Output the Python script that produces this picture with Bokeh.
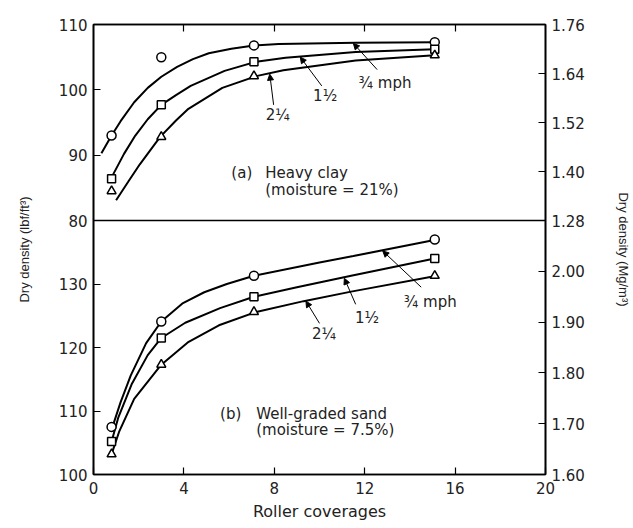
from bokeh.plotting import figure
from bokeh.models import (Range1d, LinearAxis, FixedTicker, Span, Arrow,
                          NormalHead, Label, PrintfTickFormatter)
from bokeh.embed import file_html
from bokeh.resources import INLINE

# ---------------- data ----------------
# roller coverages of the measured points
marker_x = [0.8, 3.0, 7.1, 15.1]

# (a) Heavy clay - dry density (lbf/ft3) of the measured points
clay_mph_3_4 = [93.0, 105.0, 106.8, 107.3]
clay_mph_1_1_2 = [86.4, 97.7, 104.3, 106.2]
clay_mph_2_1_4 = [84.5, 92.8, 102.1, 105.3]

# (a) fitted curves
clay_curve_3_4_x = [0.35, 0.8, 1.2, 1.8, 2.4, 3.0, 3.7, 4.4, 5.1, 6.1, 7.1, 8.2, 11.6, 15.1]
clay_curve_3_4_y = [90.3, 93.0, 95.2, 98.1, 100.3, 102.0, 103.5, 104.7, 105.6, 106.3, 106.8, 107.0, 107.2, 107.3]
clay_curve_1_1_2_x = [0.8, 1.35, 1.85, 2.4, 3.0, 3.65, 4.3, 5.8, 7.2, 8.5, 11.6, 15.1]
clay_curve_1_1_2_y = [86.6, 90.2, 93.0, 95.5, 97.7, 99.2, 100.6, 102.9, 104.3, 104.9, 105.8, 106.2]
clay_curve_2_1_4_x = [1.0, 1.55, 2.05, 2.95, 3.65, 4.2, 5.7, 7.2, 8.4, 11.6, 15.1]
clay_curve_2_1_4_y = [83.1, 86.0, 88.6, 92.8, 95.3, 97.1, 100.3, 102.1, 103.0, 104.5, 105.3]

# (b) Well-graded sand - dry density (lbf/ft3) of the measured points
sand_mph_3_4 = [107.5, 124.1, 131.3, 137.0]
sand_mph_1_1_2 = [105.2, 121.5, 128.0, 134.0]
sand_mph_2_1_4 = [103.2, 117.3, 125.6, 131.3]

# (b) fitted curves
sand_curve_3_4_x = [0.84, 1.2, 1.65, 2.33, 3.0, 3.96, 4.9, 5.9, 7.1, 10.0, 11.5, 15.2]
sand_curve_3_4_y = [107.5, 111.4, 115.6, 120.7, 124.1, 127.0, 128.7, 130.0, 131.3, 133.4, 134.4, 137.0]
sand_curve_1_1_2_x = [0.8, 1.1, 1.7, 2.4, 3.0, 4.06, 5.6, 7.1, 9.0, 11.4, 15.1]
sand_curve_1_1_2_y = [105.2, 109.0, 114.3, 118.8, 121.5, 123.9, 126.2, 128.0, 129.5, 131.3, 134.0]
sand_curve_2_1_4_x = [0.8, 1.13, 1.8, 3.0, 4.17, 5.55, 7.2, 9.3, 11.4, 15.2]
sand_curve_2_1_4_y = [103.2, 106.7, 111.9, 117.3, 120.8, 123.5, 125.6, 127.3, 128.8, 131.3]

# axes
x_ticks = [0, 4, 8, 12, 16, 20]
x_inner_ticks = [4, 8, 12, 16]
clay_lbf_ticks = [80, 90, 100, 110]
sand_lbf_ticks = [100, 110, 120, 130]
clay_mg_ticks = [1.28, 1.40, 1.52, 1.64, 1.76]
sand_mg_ticks = [1.60, 1.70, 1.80, 1.90, 2.00]
clay_lbf_span = [80, 110]
sand_lbf_span = [100, 140]
clay_mg_span = [1.28, 1.76]
sand_mg_span = [1.60, 2.10]

# ---------------- layout ----------------
W, H = 633, 528
ML, MR, MT, MB = 93, 86, 24, 54
FRAME_H = H - MT - MB          # 450
TOP_H = 196                    # clay panel height
BOT_H = FRAME_H - TOP_H        # sand panel height
EPS = 1e-4                     # keeps the end ticks inside the ranges

FONT = "DejaVu Sans"

sand_lo, sand_hi = sand_lbf_span
sand_end = sand_lo + (sand_hi - sand_lo) * FRAME_H / BOT_H
clay_lo, clay_hi = clay_lbf_span
clay_start = clay_hi - (clay_hi - clay_lo) * FRAME_H / TOP_H
mg_lo, mg_hi = sand_mg_span
mg_end = mg_lo + (mg_hi - mg_lo) * FRAME_H / BOT_H


def clay_pos_on_left(v):
    frac = (v - clay_start) / (clay_hi - clay_start)
    return round(sand_lo + frac * (sand_end - sand_lo), 6)


def clay_mg_pos_on_right(m):
    v = clay_lo + (m - clay_mg_span[0]) * (clay_hi - clay_lo) / (clay_mg_span[1] - clay_mg_span[0])
    frac = (v - clay_start) / (clay_hi - clay_start)
    return round(mg_lo + frac * (mg_end - mg_lo), 6)


p = figure(width=W, height=H, x_range=Range1d(0, 20),
           y_range=Range1d(sand_lo, sand_end + EPS),
           output_backend="svg", toolbar_location=None,
           min_border_left=ML, min_border_right=MR,
           min_border_top=MT, min_border_bottom=MB)
p.extra_y_ranges = {"clay": Range1d(clay_start, clay_hi + EPS * (clay_hi - clay_start) / (sand_end - sand_lo)),
                    "mg": Range1d(mg_lo, mg_end + EPS * (mg_end - mg_lo) / (sand_end - sand_lo))}
p.grid.visible = False
p.outline_line_color = "black"
p.outline_line_width = 1.6
p.background_fill_color = "white"
p.border_fill_color = "white"


def style_axis(ax, size="15px"):
    ax.axis_line_color = "black"
    ax.axis_line_width = 1.6
    ax.major_tick_in = 7
    ax.major_tick_out = 0
    ax.major_tick_line_width = 1.2
    ax.minor_tick_line_color = None
    ax.major_label_text_font = FONT
    ax.major_label_text_font_size = size
    ax.major_label_text_color = "#222222"
    ax.axis_label_text_font_style = "normal"
    ax.axis_label_text_color = "#222222"


# bottom x axis
xa = p.xaxis[0]
style_axis(xa)
xa.ticker = FixedTicker(ticks=x_ticks)
xa.major_label_standoff = 7
xa.axis_label = "Roller coverages"
xa.axis_label_text_font = FONT
xa.axis_label_text_font_size = "16px"
xa.axis_label_standoff = 5

# top ticks only
top_ax = LinearAxis(ticker=FixedTicker(ticks=x_inner_ticks))
style_axis(top_ax, "0px")
top_ax.major_label_text_alpha = 0
p.add_layout(top_ax, "above")

# left axis: sand values (natural) + clay values (upper panel)
ya = p.yaxis[0]
style_axis(ya)
left_clay_pos = [clay_pos_on_left(v) for v in clay_lbf_ticks]
ya.ticker = FixedTicker(ticks=sand_lbf_ticks + left_clay_pos)
ya.major_label_overrides = {pos: str(v) for pos, v in zip(left_clay_pos, clay_lbf_ticks)}
ya.major_label_standoff = 6
ya.axis_label = "Dry density (lbf/ft\u00b3)"
ya.axis_label_text_font = "Liberation Sans"
ya.axis_label_text_font_size = "13px"
ya.axis_label_standoff = 24

# right axis: Mg/m3
right_clay_pos = [clay_mg_pos_on_right(m) for m in clay_mg_ticks]
ra = LinearAxis(y_range_name="mg",
                ticker=FixedTicker(ticks=sand_mg_ticks + right_clay_pos),
                formatter=PrintfTickFormatter(format="%.2f"))
style_axis(ra)
ra.major_label_overrides = {pos: "%.2f" % m for pos, m in zip(right_clay_pos, clay_mg_ticks)}
ra.major_label_standoff = 6
ra.axis_label = "Dry density (Mg/m\u00b3)"
ra.axis_label_text_font = "Liberation Sans"
ra.axis_label_text_font_size = "13px"
ra.axis_label_standoff = 28
p.add_layout(ra, "right")

# divider between the two panels
p.add_layout(Span(location=sand_hi, dimension="width", line_color="black", line_width=1.6))

# ---------------- curves and points ----------------
LW = 2
p.line(clay_curve_3_4_x, clay_curve_3_4_y, y_range_name="clay", line_color="black", line_width=LW)
p.line(clay_curve_1_1_2_x, clay_curve_1_1_2_y, y_range_name="clay", line_color="black", line_width=LW)
p.line(clay_curve_2_1_4_x, clay_curve_2_1_4_y, y_range_name="clay", line_color="black", line_width=LW)
p.line(sand_curve_3_4_x, sand_curve_3_4_y, line_color="black", line_width=LW)
p.line(sand_curve_1_1_2_x, sand_curve_1_1_2_y, line_color="black", line_width=LW)
p.line(sand_curve_2_1_4_x, sand_curve_2_1_4_y, line_color="black", line_width=LW)

mk = dict(fill_color="white", line_color="black", line_width=1.5)
p.scatter(marker_x, clay_mph_3_4, marker="circle", size=9, y_range_name="clay", **mk)
p.scatter(marker_x, clay_mph_1_1_2, marker="square", size=8, y_range_name="clay", **mk)
p.scatter(marker_x, clay_mph_2_1_4, marker="triangle", size=9, y_range_name="clay", **mk)
p.scatter(marker_x, sand_mph_3_4, marker="circle", size=9, **mk)
p.scatter(marker_x, sand_mph_1_1_2, marker="square", size=8, **mk)
p.scatter(marker_x, sand_mph_2_1_4, marker="triangle", size=9, **mk)

# ---------------- annotations ----------------
def text(x, y, s, rng="default", align="left", size="15px"):
    p.add_layout(Label(x=x, y=y, text=s, y_range_name=rng, text_font=FONT,
                       text_font_size=size, text_align=align,
                       text_baseline="middle", text_color="#222222"))


def leader(x0, y0, x1, y1, rng="default"):
    p.add_layout(Arrow(x_start=x0, y_start=y0, x_end=x1, y_end=y1, y_range_name=rng,
                       line_color="black", line_width=1,
                       end=NormalHead(size=6, fill_color="black", line_color="black")))


# panel (a)
text(6.1, 87.2, "(a)", "clay")
text(7.6, 87.2, "Heavy clay", "clay")
text(7.6, 84.6, "(moisture = 21%)", "clay")
text(12.9, 101.0, "\u00be mph", "clay", "center")
text(10.25, 99.0, "1\u00bd", "clay", "center")
text(8.15, 96.2, "2\u00bc", "clay", "center")
leader(12.55, 103.1, 11.5, 107.1, "clay")
leader(10.1, 100.6, 9.15, 105.0, "clay")
leader(7.97, 97.7, 7.8, 102.4, "clay")

# panel (b)
text(5.6, 109.5, "(b)")
text(7.2, 109.5, "Well-graded sand")
text(7.2, 107.0, "(moisture = 7.5%)")
text(14.9, 127.1, "\u00be mph", align="center")
text(12.1, 124.6, "1\u00bd", align="center")
text(10.2, 122.1, "2\u00bc", align="center")
leader(14.5, 129.5, 12.8, 135.2)
leader(11.6, 126.8, 11.1, 130.9)
leader(10.0, 123.8, 9.4, 127.3)

open("out.html", "w").write(file_html(p, INLINE))
